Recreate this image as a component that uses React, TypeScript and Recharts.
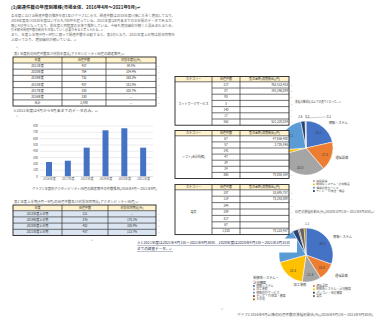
import React from "react";
import { BarChart, Bar, XAxis, YAxis, CartesianGrid, PieChart, Pie, Cell } from "recharts";

const FONT = '"Noto Sans CJK JP", "Noto Sans", sans-serif';
// tiny text is drawn K times larger and scaled down
const K = 4;

// 年度別関連件数（グラフ1）
const years = ["2016年度", "2017年度", "2018年度", "2019年度", "2020年度", "2021年度"];
const yearCounts = [230, 250, 457, 732, 764, 457];
const countTicks = [0, 100, 200, 300, 400, 500, 600, 700, 800];

// 表1
const t1Header = ["年度", "関連件数", "対前年度比(%)"];
const t1Years = ["2021年度", "2020年度", "2019年度", "2018年度", "2017年度", "2016年度", "合計"];
const t1Counts = ["457", "764", "732", "457", "250", "230", "2,890"];
const t1Ratios = ["59.8%", "104.4%", "160.2%", "182.8%", "108.7%", "—", "—"];

// 表2
const t2Header = ["年度", "関連件数", "対前年同期比(%)"];
const t2Years = ["2018年度上半期", "2019年度上半期", "2020年度上半期", "2021年度上半期"];
const t2Counts = ["221", "376", "402", "457"];
const t2Ratios = ["—", "170.1%", "106.9%", "113.7%"];

// 右側の表
const rtHeader = ["カテゴリー", "関連件数", "受注金額(消費税込)(円)"];
const rtACat = "ネットワークサービス";
const rtACounts = ["217", "87", "93", "8", "140", "17", "562"];
const rtAAmounts = ["763,513,453", "192,246,089", "", "", "", "", "521,220,034"];
const rtBCat = "ソフト(会計財務)";
const rtBCounts = ["67", "57", "141", "47", "29", "24", "365"];
const rtBAmounts = ["47,656,400", "2,735,846", "", "", "", "", "78,058,584"];
const rtCCat = "電気";
const rtCCounts = ["287", "114", "294", "289", "317", "67", "1,010"];
const rtCAmounts = ["33,695,757", "73,283,009", "", "", "", "", "78,223,457"];

// 円グラフ1
const pie1Names = ["情報システム", "通信設備", "建設設備", "制御系システム・計測機器", "情報処理サービス", "テレビ・TV放送・機器", "パソコン・周辺機器", "その他"];
const pie1Values = [21.5, 17.3, 32.0, 3.0, 23.1, 2.6, 0.3, 0.2];
const pie1Colors = ["#4472c4", "#ed7d31", "#a5a5a5", "#ffc000", "#5b9bd5", "#264478", "#9e480e", "#636363"];
const pie1LegendIdx = [2, 3, 4, 5];

// 円グラフ2
const pie2Names = ["情報システム", "通信設備", "加工業務", "制御系システム・計測機器", "情報処理サービス", "パソコン・周辺機器", "テレビ・TV放送・機器", "電気", "その他"];
const pie2Values = [30.5, 10.5, 11.3, 18.3, 21.2, 3.4, 0.8, 2.9, 1.1];
const pie2Colors = ["#4472c4", "#ed7d31", "#a5a5a5", "#ffc000", "#5b9bd5", "#264478", "#9e480e", "#636363", "#997300"];
const pie2LegendLeft = [0, 2, 4, 6, 8];
const pie2LegendRight = [1, 3, 5, 7];

// 本文（1行ずつ）
const bodyLines = [
  "各年度における関連件数の推移を表1及びグラフ1に示す。関連件数は2018年度以降に大きく増加しており、",
  "2019年度及び2020年度はいずれも700件を超えている。2021年度は9月末までの半年間のデータであるが、",
  "既に457件となっており、前年度と同程度の水準で推移している。今後も増加傾向が続くと見込まれるため、",
  "引き続き関連件数の動向を注視していく必要があると考えられる。↵",
  "また、年度上半期(4月～9月)に限って関連件数を比較すると、表2のとおり、2021年度上半期は前年同期を",
  "上回っており、増加傾向が続いている。↵",
];
const bodyLineWidths = [164, 164, 164, 93, 164, 66];

const RAD = Math.PI / 180;

type TP = {
  x: number;
  y: number;
  size: number;
  anchor?: string;
  fill?: string;
  len?: number;
  weight?: number;
  underline?: boolean;
  children: React.ReactNode;
};

function ST({ x, y, size, anchor = "start", fill = "#555", len, weight, underline, children }: TP) {
  return (
    <text
      transform={`translate(${x},${y}) scale(${1 / K})`}
      x={0}
      y={0}
      fontSize={size * K}
      textAnchor={anchor as any}
      dominantBaseline="central"
      fill={fill}
      fontFamily={FONT}
      fontWeight={weight}
      textDecoration={underline ? "underline" : undefined}
      textLength={len ? len * K : undefined}
      lengthAdjust={len ? "spacingAndGlyphs" : undefined}
    >
      {children}
    </text>
  );
}

type TableProps = {
  x: number;
  y: number;
  widths: number[];
  headerH: number;
  rowH: number;
  header: string[];
  rows: string[][];
  rowBg?: string;
  merged?: string;
};

function SvgTable({ x, y, widths, headerH, rowH, header, rows, rowBg = "#fff", merged }: TableProps) {
  const total = widths.reduce((a, b) => a + b, 0);
  const lefts = widths.map((_, i) => x + widths.slice(0, i).reduce((a, b) => a + b, 0));
  const H = headerH + rowH * rows.length;
  const line = "#333";
  return (
    <g>
      <rect x={x} y={y} width={total} height={H} fill="#fff" />
      <rect x={x} y={y} width={total} height={headerH} fill="#fff2cc" />
      {rows.map((_, i) => (
        <rect key={"bg" + i} x={merged ? x + widths[0] : x} y={y + headerH + i * rowH} width={merged ? total - widths[0] : total} height={rowH} fill={rowBg} />
      ))}
      {rows.map((_, i) => (
        <line
          key={"h" + i}
          x1={merged && i > 0 ? x + widths[0] : x}
          x2={x + total}
          y1={y + headerH + i * rowH}
          y2={y + headerH + i * rowH}
          stroke={line}
          strokeWidth={0.7}
        />
      ))}
      {lefts.slice(1).map((lx, i) => (
        <line key={"v" + i} x1={lx} x2={lx} y1={y} y2={y + H} stroke={line} strokeWidth={0.7} />
      ))}
      <rect x={x} y={y} width={total} height={H} fill="none" stroke="#222" strokeWidth={0.9} />
      {header.map((h, c) => (
        <ST key={"ht" + c} x={lefts[c] + widths[c] / 2} y={y + headerH / 2} size={3} anchor="middle" fill="#333">
          {h}
        </ST>
      ))}
      {rows.map((r, i) =>
        r.map((v, c) => {
          if (merged && c === 0) return null;
          const right = !!merged && c === 2;
          return (
            <ST
              key={i + "-" + c}
              x={right ? lefts[c] + widths[c] - 1.2 : lefts[c] + widths[c] / 2}
              y={y + headerH + i * rowH + rowH / 2}
              size={3}
              anchor={right ? "end" : "middle"}
              fill="#333"
            >
              {v}
            </ST>
          );
        })
      )}
      {merged && (
        <ST x={x + widths[0] / 2} y={y + headerH + (rowH * rows.length) / 2} size={3} anchor="middle" fill="#333">
          {merged}
        </ST>
      )}
      {rows.map((_, i) => (
        <ST key={"m" + i} x={x + total + 1.5} y={y + headerH + i * rowH + rowH / 2} size={2.2} fill="#a0a0a0">
          ↵
        </ST>
      ))}
    </g>
  );
}

function makeLabel(small: number[], names: string[], nameCfg: Record<number, { r: number; anchor: string; dx: number }>, lead: number) {
  return (p: any) => {
    const { cx, cy, midAngle, outerRadius, value, index } = p;
    const cos = Math.cos(-midAngle * RAD);
    const sin = Math.sin(-midAngle * RAD);
    const out: React.ReactNode[] = [];
    if (value >= 5) {
      const r = outerRadius * 0.74;
      out.push(
        <ST key="v" x={cx + r * cos} y={cy + r * sin} size={3.2} anchor="middle" fill="#404040">
          {value.toFixed(1)}
        </ST>
      );
    } else if (small.includes(index)) {
      const r = outerRadius + 4;
      const px = cx + r * cos;
      const py = cy + r * sin;
      if (index === lead) {
        out.push(<line key="l" x1={px} y1={py + 1} x2={px + 20} y2={py} stroke="#8c8c8c" strokeWidth={0.4} />);
        out.push(
          <ST key="v" x={px + 21} y={py} size={3} fill="#404040">
            {value.toFixed(1)}
          </ST>
        );
      } else {
        out.push(
          <ST key="v" x={px} y={py} size={3} anchor={index % 2 === 1 ? "end" : "start"} fill="#404040">
            {value.toFixed(1)}
          </ST>
        );
      }
    }
    const cfg = nameCfg[index];
    if (cfg) {
      const r = outerRadius + cfg.r;
      const px = cx + r * cos + cfg.dx;
      const py = cy + r * sin;
      const nm = names[index];
      const parts = nm.includes("・") ? [nm.split("・")[0] + "・", nm.split("・")[1]] : [nm];
      parts.forEach((t, k) =>
        out.push(
          <ST key={"n" + k} x={px} y={py + (k - (parts.length - 1) / 2) * 5.5} size={3.2} anchor={cfg.anchor} fill="#404040">
            {t}
          </ST>
        )
      );
    }
    return <g>{out}</g>;
  };
}

function SvgLegend({ x, y, idx, names, colors, size }: { x: number; y: number; idx: number[]; names: string[]; colors: string[]; size: number }) {
  return (
    <g>
      {idx.map((i, k) => (
        <g key={i}>
          <rect x={x} y={y + k * 3.35 - 0.9} width={1.8} height={1.8} fill={colors[i]} />
          <ST x={x + 3.2} y={y + k * 3.35} size={size} fill="#555">
            {names[i]}
          </ST>
        </g>
      ))}
    </g>
  );
}

const XTick = (p: any) => (
  <ST x={p.x} y={p.y + 1.5} size={3} anchor="middle" fill="#595959">
    {p.payload.value}
  </ST>
);
const YTick = (p: any) => (
  <ST x={p.x} y={p.y} size={3} anchor="end" fill="#595959">
    {p.payload.value}
  </ST>
);

export default function App() {
  const barData = years.map((y, i) => ({ year: y, count: yearCounts[i] }));
  const t1Rows = t1Years.map((y, i) => [y, t1Counts[i], t1Ratios[i]]);
  const t2Rows = t2Years.map((y, i) => [y, t2Counts[i], t2Ratios[i]]);
  const rA = rtACounts.map((c, i) => ["", c, rtAAmounts[i]]);
  const rB = rtBCounts.map((c, i) => ["", c, rtBAmounts[i]]);
  const rC = rtCCounts.map((c, i) => ["", c, rtCAmounts[i]]);
  const pie1Data = pie1Names.map((n, i) => ({ name: n, value: pie1Values[i] }));
  const pie2Data = pie2Names.map((n, i) => ({ name: n, value: pie2Values[i] }));
  const rtW = [37, 28, 49];
  const bodyY = [15.7, 20.4, 25.1, 29.8, 34.7, 39.4];

  return (
    <div style={{ position: "absolute", left: 0, top: 0, width: 392, height: 325, background: "#fff", overflow: "hidden", fontFamily: FONT }}>
      {/* グラフ1 */}
      <div style={{ position: "absolute", left: 20, top: 120 }}>
        <BarChart width={140} height={65} data={barData} margin={{ top: 6, right: 7, bottom: 0, left: 0 }} barSize={6}>
          <CartesianGrid vertical={false} stroke="#d9d9d9" strokeWidth={0.5} />
          <XAxis dataKey="year" height={8.5} interval={0} tickLine={false} tickSize={0} tickMargin={1} axisLine={{ stroke: "#d9d9d9", strokeWidth: 0.5 }} tick={XTick} />
          <YAxis width={20} domain={[0, 800]} ticks={countTicks} interval={0} tickLine={false} tickSize={0} tickMargin={2} axisLine={false} tick={YTick} />
          <Bar dataKey="count" fill="#4472c4" isAnimationActive={false} />
        </BarChart>
      </div>

      {/* 円グラフ1 */}
      <div style={{ position: "absolute", left: 240, top: 110 }}>
        <PieChart width={130} height={76} margin={{ top: 0, right: 0, bottom: 0, left: 0 }}>
          <Pie
            data={pie1Data}
            dataKey="value"
            nameKey="name"
            cx={66}
            cy={38}
            outerRadius={27}
            startAngle={90}
            endAngle={-270}
            stroke="#fff"
            strokeWidth={0.5}
            labelLine={false}
            label={makeLabel([5, 6, 7], pie1Names, { 0: { r: 6, anchor: "start", dx: 2 }, 1: { r: 4, anchor: "start", dx: 0 } }, 7)}
            isAnimationActive={false}
          >
            {pie1Data.map((d, i) => (
              <Cell key={d.name} fill={pie1Colors[i]} />
            ))}
          </Pie>
        </PieChart>
      </div>

      {/* 円グラフ2 */}
      <div style={{ position: "absolute", left: 240, top: 217 }}>
        <PieChart width={130} height={76} margin={{ top: 0, right: 0, bottom: 0, left: 0 }}>
          <Pie
            data={pie2Data}
            dataKey="value"
            nameKey="name"
            cx={66}
            cy={38}
            outerRadius={27}
            startAngle={90}
            endAngle={-270}
            stroke="#fff"
            strokeWidth={0.5}
            labelLine={false}
            label={makeLabel(
              [8],
              pie2Names,
              {
                0: { r: 6, anchor: "start", dx: 0 },
                1: { r: 5, anchor: "start", dx: 4 },
                2: { r: 3, anchor: "end", dx: -6 },
                3: { r: 6, anchor: "start", dx: -31 },
              },
              -1
            )}
            isAnimationActive={false}
          >
            {pie2Data.map((d, i) => (
              <Cell key={d.name} fill={pie2Colors[i]} />
            ))}
          </Pie>
        </PieChart>
      </div>

      {/* 文書のテキストと表 */}
      <svg width={392} height={325} style={{ position: "absolute", left: 0, top: 0, pointerEvents: "none" }}>
        <ST x={11} y={7} size={4.1} weight={700} fill="#222" len={129}>
          (1)関連件数の年度別推移(市場全体、2016年4月～2021年9月)↵
        </ST>
        {bodyLines.map((t, i) => (
          <ST key={i} x={11} y={bodyY[i]} size={3.3} fill="#666" len={bodyLineWidths[i]}>
            {t}
          </ST>
        ))}
        <ST x={16} y={47} size={2.6} fill="#999">
          ↵
        </ST>

        <ST x={14} y={53.6} size={3} len={111}>
          表1 年度別の関連件数及び対前年度比(アクセシビリティ関連の調達案件)↵
        </ST>
        <SvgTable x={13} y={57} widths={[49, 44, 50]} headerH={6} rowH={6.15} header={t1Header} rows={t1Rows} />
        <ST x={13} y={110.7} size={3} len={86}>
          ※2021年度は4月から9月末までのデータのみ。↵
        </ST>
        <ST x={16} y={116} size={2.6} fill="#999">
          ↵
        </ST>

        <ST x={32} y={189} size={3} len={125}>
          グラフ1 年度別アクセシビリティ関連の調達案件の件数推移(2016年4月～2021年9月)
        </ST>

        <ST x={14} y={201.7} size={3} len={125}>
          表2 年度上半期(4月～9月)の関連件数及び対前年同期比(アクセシビリティ関連)↵
        </ST>
        <SvgTable x={13} y={205} widths={[49, 46, 48]} headerH={5.7} rowH={6.2} header={t2Header} rows={t2Rows} rowBg="#dbe5f1" />
        <ST x={91} y={239.5} size={2.6} fill="#999">
          ↵
        </ST>

        <ST x={295} y={101.7} size={2.9} len={47}>
          業種の構成比は以下の通りとなった。↵
        </ST>
        <SvgLegend x={313} y={181} idx={pie1LegendIdx} names={pie1Names} colors={pie1Colors} size={2.8} />
        <ST x={295} y={211.7} size={2.9} len={80}>
          関連の業種別割合(%)(2020年10月1日～2021年9月30日)↵
        </ST>

        <SvgTable x={175} y={76.5} widths={rtW} headerH={5.3} rowH={6.2} header={rtHeader} rows={rA} merged={rtACat} />
        <SvgTable x={175} y={130.5} widths={rtW} headerH={5.3} rowH={6.1} header={rtHeader} rows={rB} merged={rtBCat} />
        <SvgTable x={175} y={184.5} widths={rtW} headerH={5.3} rowH={6.4} header={rtHeader} rows={rC} merged={rtCCat} />

        <rect x={136} y={238.5} width={161} height={14} fill="#fff" />
        <ST x={137} y={243} size={3} fill="#1f2d4d" underline len={153}>
          ※1 2021年度は2021年4月1日～2021年9月30日、2020年度は2020年4月1日～2021年3月31日
        </ST>
        <ST x={137} y={249} size={3} fill="#1f2d4d" underline len={36}>
          までの調査データ。↵
        </ST>

        <SvgLegend x={253} y={286} idx={pie2LegendLeft} names={pie2Names} colors={pie2Colors} size={2.9} />
        <SvgLegend x={313} y={286} idx={pie2LegendRight} names={pie2Names} colors={pie2Colors} size={2.9} />
        <ST x={221} y={309} size={2.6} fill="#999">
          ↵
        </ST>
        <ST x={237} y={315} size={2.9} len={136}>
          グラフ2 2016年4月以降の関連件数の業種別割合(%)(2016年4月1日～2021年9月30日)
        </ST>
      </svg>
    </div>
  );
}
